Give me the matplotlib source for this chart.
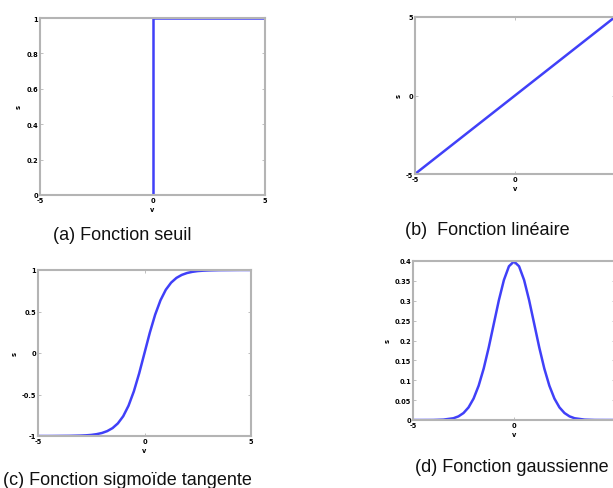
import matplotlib.pyplot as plt

# --- données ---
seuil_v = [-5, 0, 0, 5]
seuil_s = [0, 0, 1, 1]

lin_v = [-5, 5]
lin_s = [-5, 5]

v_grid = [-5, -4.5, -4, -3.5, -3, -2.75, -2.5, -2.25, -2, -1.75, -1.5, -1.25, -1,
          -0.75, -0.5, -0.25, 0, 0.25, 0.5, 0.75, 1, 1.25, 1.5, 1.75, 2, 2.25,
          2.5, 2.75, 3, 3.5, 4, 4.5, 5]
tanh_s = [-1.0, -1.0, -0.999, -0.998, -0.995, -0.992, -0.987, -0.978, -0.964, -0.941,
          -0.905, -0.848, -0.762, -0.635, -0.462, -0.245, 0.0, 0.245, 0.462, 0.635,
          0.762, 0.848, 0.905, 0.941, 0.964, 0.978, 0.987, 0.992, 0.995, 0.998,
          0.999, 1.0, 1.0]
gauss_s = [0.0, 0.0, 0.0001, 0.0009, 0.0044, 0.0091, 0.0175, 0.0317, 0.054, 0.0863,
           0.1295, 0.1826, 0.242, 0.3011, 0.3521, 0.3867, 0.3989, 0.3867, 0.3521,
           0.3011, 0.242, 0.1826, 0.1295, 0.0863, 0.054, 0.0317, 0.0175, 0.0091,
           0.0044, 0.0009, 0.0001, 0.0, 0.0]

x_ticks = [-5, 0, 5]
yticks_a = [0, 0.2, 0.4, 0.6, 0.8, 1]
yticks_b = [-5, 0, 5]
yticks_c = [-1, -0.5, 0, 0.5, 1]
yticks_d = [0, 0.05, 0.1, 0.15, 0.2, 0.25, 0.3, 0.35, 0.4]

captions = ["(a) Fonction seuil", "(b)  Fonction linéaire",
            "(c) Fonction sigmoïde tangente", "(d) Fonction gaussienne"]

BLUE = "#4040f8"
GRAY = "#b4b4b4"

W, H = 613, 489
fig = plt.figure(figsize=(W / 100, H / 100), dpi=100)


def px_axes(left, top, right, bottom):
    return fig.add_axes([left / W, 1 - bottom / H, (right - left) / W, (bottom - top) / H])


def style(ax, yt, ylim):
    ax.set_xlim(-5, 5)
    ax.set_ylim(*ylim)
    ax.set_xticks(x_ticks)
    ax.set_yticks(yt)
    ax.set_xticklabels([f"{t:g}" for t in x_ticks])
    ax.set_yticklabels([f"{t:g}" for t in yt])
    ax.tick_params(direction="in", length=2, width=0.6, color=GRAY, labelsize=4.8,
                   pad=1.5, top=True, right=True)
    for lab in ax.get_xticklabels() + ax.get_yticklabels():
        lab.set_fontweight("bold")
    for sp in ax.spines.values():
        sp.set_color(GRAY)
        sp.set_linewidth(1.5)
    ax.set_ylabel("s", fontsize=4.8, fontweight="bold", labelpad=3)
    ax.set_xlabel("v", fontsize=4.8, fontweight="bold", labelpad=2)


ax_a = px_axes(40, 19, 265, 196)
ax_a.plot(seuil_v, seuil_s, color=BLUE, lw=1.8)
style(ax_a, yticks_a, (0, 1))

ax_b = px_axes(415, 18, 615, 175)
ax_b.plot(lin_v, lin_s, color=BLUE, lw=1.8)
style(ax_b, yticks_b, (-5, 5))

ax_c = px_axes(38, 271, 251, 437)
ax_c.plot(v_grid, tanh_s, color=BLUE, lw=1.8)
style(ax_c, yticks_c, (-1, 1))

ax_d = px_axes(413, 262, 615, 421)
ax_d.plot(v_grid, gauss_s, color=BLUE, lw=1.8)
style(ax_d, yticks_d, (0, 0.4))

cap_font = dict(fontsize=13, family="Liberation Sans", color="#111111", va="center")
fig.text(53 / W, 1 - 236 / H, captions[0], ha="left", **cap_font)
fig.text(405 / W, 1 - 231 / H, captions[1], ha="left", **cap_font)
fig.text(3 / W, 1 - 481 / H, captions[2], ha="left", **cap_font)
fig.text(415 / W, 1 - 468 / H, captions[3], ha="left", **cap_font)

fig.savefig("out.png", dpi=100, facecolor="white")
